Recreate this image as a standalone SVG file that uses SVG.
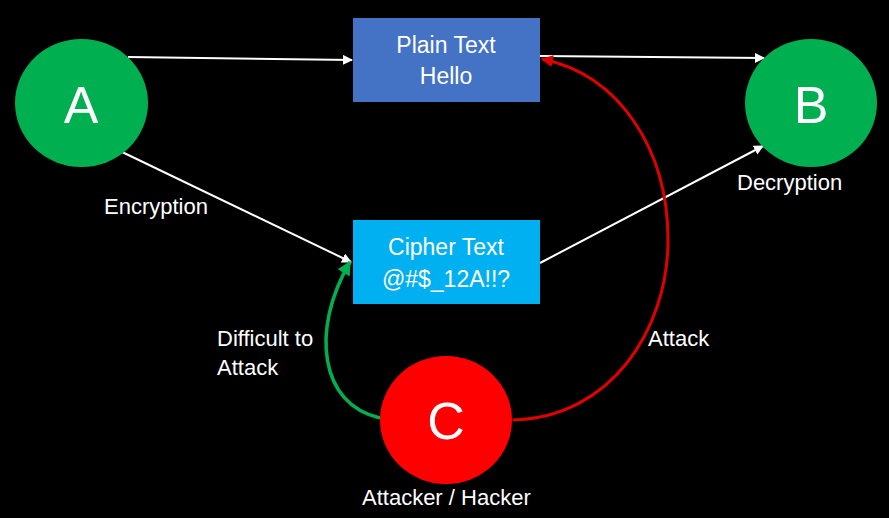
<svg xmlns="http://www.w3.org/2000/svg" width="889" height="518" viewBox="0 0 889 518">
<defs>
<style>
.lbl{font-family:"Liberation Sans",Arial,sans-serif;fill:#fff;font-size:22px}
.box{font-family:"Liberation Sans",Arial,sans-serif;fill:#fff;font-size:23px;text-anchor:middle}
.big{font-family:"Liberation Sans",Arial,sans-serif;fill:#fff;font-size:52px;text-anchor:middle}
.w{stroke:#fff;stroke-width:2;fill:none}
</style>
<marker id="aw" viewBox="0 0 10 10" refX="9" refY="5" markerWidth="5" markerHeight="5" orient="auto" markerUnits="strokeWidth"><path d="M0,0 L10,5 L0,10 z" fill="#fff"/></marker>
<marker id="ar" viewBox="0 0 10 10" refX="9" refY="5" markerWidth="4" markerHeight="4" orient="auto" markerUnits="strokeWidth"><path d="M0,0 L10,5 L0,10 z" fill="#e00000"/></marker>
<marker id="ag" viewBox="0 0 10 10" refX="9" refY="5" markerWidth="4" markerHeight="4" orient="auto" markerUnits="strokeWidth"><path d="M0,0 L10,5 L0,10 z" fill="#00b050"/></marker>
</defs>
<rect width="889" height="518" fill="#000"/>
<g id="connectors">
<path class="w" d="M128,57 L352,60" marker-end="url(#aw)"/>
<path class="w" d="M540,56 L764,58" marker-end="url(#aw)"/>
<path class="w" d="M120,151 L351,262" marker-end="url(#aw)"/>
<path class="w" d="M540,263 L763,146" marker-end="url(#aw)"/>
<path d="M380,418 C320,405 310,330 350,262" stroke="#00b050" stroke-width="3.5" fill="none" marker-end="url(#ag)"/>
<path d="M513,420 C610,418 668,330 668,240 C668,150 620,75 542,59" stroke="#e00000" stroke-width="3" fill="none" marker-end="url(#ar)"/>
</g>
<g id="nodeA"><ellipse cx="81.5" cy="103" rx="66.5" ry="64" fill="#00b050"/><text class="big" x="81" y="123">A</text></g>
<g id="nodeB"><ellipse cx="811" cy="103" rx="66" ry="64" fill="#00b050"/><text class="big" x="811" y="123">B</text></g>
<g id="nodeC"><ellipse cx="446" cy="420" rx="66" ry="64" fill="#ff0000"/><text class="big" x="446" y="439">C</text></g>
<g id="plain"><rect x="353" y="18" width="187" height="84" fill="#4472c4"/><text class="box" x="446" y="53">Plain Text</text><text class="box" x="446" y="84">Hello</text></g>
<g id="cipher"><rect x="353" y="220" width="187" height="84" fill="#00b0f0"/><text class="box" x="446" y="255">Cipher Text</text><text class="box" x="446" y="287">@#$_12A!!?</text></g>
<g id="labels">
<text class="lbl" x="104" y="214">Encryption</text>
<text class="lbl" x="737" y="190">Decryption</text>
<text class="lbl" x="217" y="346">Difficult to</text>
<text class="lbl" x="217" y="375">Attack</text>
<text class="lbl" x="648" y="346">Attack</text>
<text class="lbl" x="362" y="505">Attacker / Hacker</text>
</g>
</svg>
